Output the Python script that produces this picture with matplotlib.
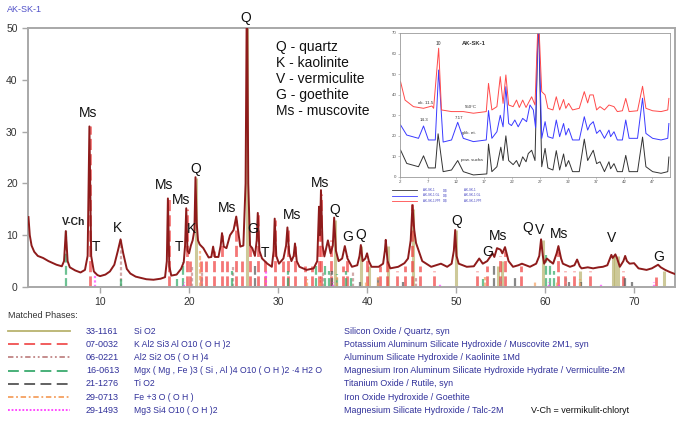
import matplotlib
matplotlib.use("Agg")
import matplotlib.pyplot as plt
from matplotlib.lines import Line2D

W, H = 685, 422

# ---- measured pattern AK-SK-1 (2theta, intensity) ----
two_theta = [1.95, 2.1, 2.3, 2.6, 3.0, 3.6, 4.2, 5.1, 5.7, 5.95, 6.15, 6.35, 6.6, 7.2, 7.8,
             8.3, 8.6, 8.8, 9.0, 9.3, 9.7, 10.0, 10.6, 11.1, 11.6, 12.0, 12.3, 12.6, 13.0,
             13.4, 14.0, 14.5, 15.2, 16.0, 16.8, 17.3, 17.5, 17.62, 17.78, 18.0, 18.6, 19.1,
             19.4, 19.55, 19.68, 19.82, 20.0, 20.2, 20.4, 20.6, 20.72, 20.85, 21.0, 21.2,
             21.6, 22.2, 22.5, 22.7, 22.9, 23.3, 23.55, 23.7, 23.9, 24.2, 24.6, 25.0, 25.3,
             25.5, 25.75, 26.1, 26.35, 26.5, 26.65, 26.85, 27.1, 27.4, 27.6, 27.72, 27.9,
             28.2, 28.8, 29.3, 29.5, 29.62, 29.8, 30.1, 30.6, 30.9, 31.05, 31.25, 31.5,
             31.75, 31.9, 32.1, 32.4, 33.2, 34.0, 34.4, 34.6, 34.7, 34.82, 35.0, 35.2, 35.6,
             35.9, 36.15, 36.3, 36.5, 36.8, 37.2, 37.5, 37.8, 38.3, 38.9, 39.15, 39.3, 39.5,
             39.8, 40.0, 40.2, 40.5, 41.3, 41.8, 42.0, 42.1, 42.3, 42.6, 43.5, 44.2, 44.6,
             44.9, 45.1, 45.3, 45.5, 45.7, 46.2, 47.2, 48.3, 49.0, 49.5, 49.75, 49.9, 50.05,
             50.3, 51.2, 52.0, 52.6, 53.0, 53.5, 54.1, 54.3, 54.6, 55.0, 55.2, 55.5, 55.9,
             56.4, 57.0, 57.4, 58.3, 59.0, 59.35, 59.55, 59.75, 59.9, 60.2, 60.4, 60.9, 61.3,
             61.5, 61.8, 62.0, 62.8, 63.3, 63.6, 63.9, 64.1, 64.8, 65.4, 66.0, 66.5, 67.0,
             67.3, 67.45, 67.6, 67.9, 68.1, 68.4, 68.8, 69.0, 69.2, 69.5, 70.0, 70.5, 71.4,
             72.0, 72.4, 72.7, 73.0, 73.5, 74.0, 74.6]
intensity = [13.5, 10.0, 8.0, 6.8, 6.0, 5.6, 5.0, 4.3, 4.0, 5.0, 10.8, 5.0, 3.8, 3.2, 2.8,
             3.3, 6.0, 31.0, 6.0, 3.0, 2.3, 2.1, 2.4, 3.0, 4.3, 7.0, 9.2, 6.5, 3.5,
             2.6, 2.0, 1.8, 1.5, 1.4, 1.6, 1.9, 5.0, 17.1, 4.0, 2.2, 2.4, 3.5,
             4.8, 8.0, 15.2, 7.0, 6.5, 8.0, 9.0, 11.0, 21.2, 12.5, 9.0, 8.2,
             7.5, 5.7, 5.8, 7.8, 5.8, 5.8, 8.0, 10.4, 7.8, 7.5, 10.0, 11.0, 13.6,
             11.0, 7.8, 8.0, 20.0, 60.0, 20.0, 8.0, 7.5, 6.0, 9.0, 14.3, 7.0,
             5.5, 4.5, 3.9, 7.0, 13.2, 6.0, 4.5, 5.5, 8.0, 11.5, 6.5, 5.0,
             6.0, 8.4, 5.0, 3.9, 3.3, 3.6, 5.0, 15.5, 10.0, 18.7, 8.0, 5.9, 9.0,
             6.5, 8.0, 13.4, 7.0, 5.0, 5.5, 7.9, 5.5, 3.9, 4.2, 6.0, 8.1, 5.0,
             5.5, 6.5, 5.0, 3.9, 3.9, 4.5, 7.0, 9.1, 5.0, 3.6, 3.9, 4.6, 5.5,
             9.0, 15.8, 11.0, 8.5, 7.5, 5.0, 3.9, 4.5, 3.9, 4.5, 7.0, 11.0, 6.0,
             4.5, 3.9, 4.0, 5.5, 4.5, 5.0, 6.5, 5.8, 7.5, 7.2, 6.5, 7.7, 5.0,
             3.9, 4.2, 4.5, 3.9, 4.5, 6.0, 9.2, 6.0, 4.5, 5.5, 5.2, 4.5, 6.5,
             7.9, 5.5, 4.5, 3.9, 4.2, 5.3, 4.0, 3.6, 3.8, 3.6, 3.8, 3.9, 4.2,
             5.5, 6.2, 5.6, 6.3, 5.5, 3.9, 5.0, 6.0, 5.0, 4.5, 4.6, 3.6, 3.3,
             3.6, 4.0, 4.3, 3.8, 3.3, 2.9, 2.5]

# ---- reference stick patterns (2theta, height) ----
quartz_pos = [20.8, 26.55, 36.4, 39.35, 40.2, 42.3, 45.2, 50.0, 54.7, 55.2, 59.8, 63.9, 67.6, 67.9, 68.2, 73.4]
quartz_h = [21, 60, 13, 8, 4, 8, 15, 11, 4, 5, 9, 3, 6, 6, 6, 3]
musc_pos = [8.85, 17.7, 19.75, 20.1, 21.3, 21.9, 22.8, 23.7, 24.3, 25.3, 26.0, 26.8, 27.75, 28.5,
            29.65, 30.5, 31.1, 31.9, 33.0, 33.8, 34.65, 34.85, 35.9, 37.3, 37.8, 40.0, 41.4,
            42.2, 43.4, 44.3, 45.05, 46.0, 47.5, 52.3, 53.5, 54.9, 55.5, 57.3, 61.4, 62.2,
            63.3, 65.0, 68.8, 72.5]
musc_h = [31, 17, 15, 5, 5, 5, 7, 10, 5, 13, 5, 8, 14, 5,
          13, 5, 11, 8, 4, 4, 15, 18, 9, 4, 6, 6, 4,
          5, 3, 4, 16, 4, 3, 3, 4, 6, 7, 4, 7, 3,
          3, 3, 3, 2]
kaol_pos = [12.3, 20.3, 21.4, 24.9, 35.0, 36.0, 38.4, 45.5, 55.1, 62.3]
kaol_h = [9, 4, 3, 4, 3, 3, 3, 2, 2, 2]
verm_pos = [6.2, 12.35, 18.6, 19.3, 24.8, 31.1, 34.3, 35.3, 35.7, 36.6, 37.6, 38.2, 53.0, 60.1, 60.6, 61.0]
verm_h = [10.8, 1.5, 1.5, 4.8, 3, 3, 4, 4, 3, 2.5, 3, 2, 1.5, 6.2, 5, 3]
rutile_pos = [27.45, 36.1, 39.2, 41.2, 44.0, 54.3, 56.6, 62.7, 64.0, 69.0, 69.8]
rutile_h = [4, 3, 1, 2, 1, 4, 2, 1, 1, 2, 1]
goeth_pos = [21.2, 33.2, 34.7, 36.6, 39.9, 41.2, 53.2, 58.9, 61.3, 63.9]
goeth_h = [7, 1.5, 1.5, 2, 1, 2, 2, 1, 1, 1.5]
talc_pos = [9.45, 19.4, 28.6, 36.2, 48.2, 60.4, 61.6, 66.3, 72.2]
talc_h = [2.7, 1, 3, 1, 0.5, 1, 0.5, 0.5, 1]

# ---- mineral labels on main plot ----
label_text = ["Q", "Ms", "V-Ch", "T", "K", "Ms", "Ms", "Q", "K", "T", "Ms", "G", "T", "Ms",
              "Ms", "Q", "G", "Q", "Q", "G", "Ms", "Q", "V", "Ms", "V", "G"]
label_x = [26.4, 8.65, 7.0, 9.5, 12.0, 17.2, 19.1, 20.8, 20.3, 18.9, 24.3, 27.2, 28.5, 31.6,
           34.7, 36.4, 37.8, 39.3, 50.1, 53.6, 54.7, 58.1, 59.4, 61.6, 67.5, 72.8]
label_y = [51.9, 33.6, 12.5, 7.7, 11.4, 19.7, 16.8, 22.8, 11.2, 7.7, 15.3, 11.2, 6.6, 13.9,
           20.0, 14.9, 9.7, 10.0, 12.7, 6.7, 9.9, 11.3, 11.1, 10.2, 9.4, 5.7]

key_lines = ["Q - quartz", "K - kaolinite", "V - vermiculite", "G - goethite", "Ms - muscovite"]

# ---- matched phases table ----
phase_codes = ["33-1161", "07-0032", "06-0221", "16-0613", "21-1276", "29-0713", "29-1493"]
phase_formulas = ["Si O2", "K Al2 Si3 Al O10 ( O H )2", "Al2 Si2 O5 ( O H )4",
                  "Mgx ( Mg , Fe )3 ( Si , Al )4 O10 ( O H )2 ·4 H2 O", "Ti O2",
                  "Fe +3 O ( O H )", "Mg3 Si4 O10 ( O H )2"]
phase_names = ["Silicon Oxide / Quartz, syn",
               "Potassium Aluminum Silicate Hydroxide / Muscovite 2M1, syn",
               "Aluminum Silicate Hydroxide / Kaolinite 1Md",
               "Magnesium Iron Aluminum Silicate Hydroxide Hydrate / Vermiculite-2M",
               "Titanium Oxide / Rutile, syn",
               "Iron Oxide Hydroxide / Goethite",
               "Magnesium Silicate Hydroxide / Talc-2M"]

# ---- inset: three stacked patterns ----
ins_black_x = [2.1, 3.2, 5.3, 6.2, 7.07, 8.3, 8.8, 9.7, 11.2, 12.3, 13.3, 15.1, 17.5, 17.8, 18.4,
               19.3, 20.0, 20.4, 20.9, 21.4, 22.2, 22.8, 23.3, 23.9, 24.5, 24.9, 25.5, 26.1,
               26.7, 27.3, 27.9, 28.4, 29.3, 29.9, 30.5, 31.2, 31.6, 32.1, 32.8, 34.0, 34.9,
               35.5, 35.9, 36.5, 37.1, 37.7, 38.5, 39.3, 39.6, 40.2, 40.8, 41.7, 42.3, 42.9,
               44.4, 45.3, 45.9, 47.1, 48.6, 49.8, 50.0]
ins_black_y = [13.1, 6.6, 5.0, 10.3, 4.4, 4.4, 21.0, 2.6, 3.4, 8.0, 2.6, 1.0, 1.5, 16.0, 2.6,
               5.0, 14.5, 8.0, 20.0, 8.0, 6.0, 8.0, 5.0, 9.8, 7.4, 11.4, 13.0, 8.0,
               80.0, 5.0, 13.9, 4.4, 3.4, 12.8, 3.4, 11.2, 5.0, 8.0, 2.6, 2.6, 18.4,
               8.0, 10.0, 13.0, 6.5, 7.4, 2.6, 7.4, 4.0, 6.5, 2.6, 2.6, 10.5, 2.6,
               2.6, 19.4, 5.0, 2.6, 1.8, 2.6, 9.7]
ins_blue_x = [2.1, 3.2, 5.3, 6.2, 7.07, 8.3, 8.9, 9.7, 11.2, 12.3, 13.3, 15.1, 17.4, 17.8, 18.4,
              19.3, 19.9, 20.4, 20.9, 21.4, 21.9, 22.5, 23.1, 23.9, 24.6, 25.2, 25.8, 26.2,
              26.7, 27.3, 27.9, 28.4, 29.3, 29.9, 30.5, 31.2, 31.6, 32.1, 32.8, 34.0, 34.9,
              35.5, 35.9, 36.5, 37.1, 37.7, 38.5, 39.3, 39.6, 40.2, 40.8, 41.7, 42.3, 42.9,
              44.4, 45.3, 45.9, 47.1, 48.6, 49.8, 50.0]
ins_blue_y = [25.3, 20.4, 18.8, 24.8, 18.0, 18.0, 52.0, 17.0, 18.0, 26.6, 18.8, 17.2, 18.0, 32.3, 18.8,
              22.0, 30.0, 24.4, 43.9, 26.0, 25.0, 27.7, 24.4, 28.5, 26.9, 35.0, 32.6, 24.0,
              80.0, 18.8, 26.9, 19.6, 18.8, 27.7, 19.6, 26.0, 20.4, 23.6, 18.0, 18.0, 29.3,
              22.8, 25.3, 26.9, 21.2, 22.8, 18.8, 22.8, 19.6, 22.0, 18.0, 18.0, 27.7, 18.8,
              18.8, 38.3, 21.2, 18.8, 18.0, 18.8, 26.0]
ins_red_x = [2.1, 2.9, 4.4, 6.2, 7.7, 8.0, 8.9, 9.4, 11.2, 13.3, 15.1, 17.4, 17.8, 18.4, 19.3,
             19.9, 20.4, 20.9, 21.4, 22.2, 22.8, 23.3, 23.9, 24.5, 25.5, 26.1, 26.7, 27.3,
             27.9, 28.4, 29.3, 29.9, 30.5, 31.2, 31.6, 32.1, 32.8, 34.0, 34.9, 35.5, 35.9,
             36.5, 37.1, 37.7, 38.5, 39.3, 40.2, 40.8, 41.7, 42.3, 42.9, 44.4, 45.3, 45.9,
             47.1, 48.6, 49.8, 50.0]
ins_red_y = [46.3, 37.4, 34.2, 33.4, 34.5, 33.4, 62.6, 32.6, 31.8, 31.8, 31.0, 31.8, 45.5, 32.6, 34.2,
             48.8, 35.8, 49.6, 35.0, 34.2, 37.4, 33.8, 37.4, 33.8, 39.0, 35.0, 80.0, 41.5,
             39.9, 33.4, 32.6, 39.0, 32.6, 37.7, 33.4, 35.8, 32.6, 33.4, 41.5, 36.0, 39.9,
             39.9, 32.6, 34.2, 32.6, 35.0, 34.2, 31.8, 32.2, 38.2, 31.8, 32.2, 44.1, 33.4,
             32.2, 31.8, 32.6, 38.2]
ins_legend = [("AK-SK-1", "AK-SK-1"), ("AK-SK-1.GL", "AK-SK-1.GL"), ("AK-SK-1.PPI", "AK-SK-1.PPI")]

NARROW = ["Liberation Sans Narrow", "Liberation Sans", "DejaVu Sans"]
SANS = ["Liberation Sans", "DejaVu Sans"]
plt.rcParams["font.family"] = SANS


def fx(px):
    return px / W


def fy(py):
    return 1 - py / H


fig = plt.figure(figsize=(W / 100, H / 100), dpi=100)

# ---------------- main axes ----------------
ax = fig.add_axes([fx(28), fy(287), (675 - 28) / W, (287 - 28) / H])
ax.set_xlim(1.9, 74.6)
ax.set_ylim(0, 50)

sticks = [
    (quartz_pos, quartz_h, "#b9b36e", "solid", 2.2),
    (musc_pos, musc_h, "#f03c3c", (0, (4, 1.5)), 2.0),
    (kaol_pos, kaol_h, "#c08585", (0, (1.5, 1)), 1.6),
    (verm_pos, verm_h, "#2fa866", (0, (4, 1.5)), 1.6),
    (rutile_pos, rutile_h, "#555555", (0, (4, 1.5)), 1.6),
    (goeth_pos, goeth_h, "#f5a060", (0, (2, 1)), 1.6),
    (talc_pos, talc_h, "#ff3cff", (0, (1, 1)), 1.6),
]
for pos, hts, col, ls, lw in sticks:
    ax.vlines(pos, 0, hts, colors=col, linestyles=ls, linewidth=lw, alpha=0.7, zorder=1)

ax.plot(two_theta, intensity, color="#8e1b1b", lw=1.4, zorder=3)

for s in ["left", "right", "top", "bottom"]:
    ax.spines[s].set_color("#a8a8a8")
    ax.spines[s].set_linewidth(1.4)
ax.set_xticks([10, 20, 30, 40, 50, 60, 70])
ax.set_yticks([0, 10, 20, 30, 40, 50])
ax.tick_params(axis="both", colors="#a8a8a8", labelcolor="#333333", labelsize=7, length=4, width=1)
for t in ax.get_xticklabels() + ax.get_yticklabels():
    t.set_fontfamily(NARROW)
    t.set_fontsize(7.5)

for txt, x, y in zip(label_text, label_x, label_y):
    if txt == "V-Ch":
        ax.text(x, y, txt, fontsize=7.5, ha="center", va="center", color="#222222",
                fontweight="bold", clip_on=False, zorder=5)
    else:
        ax.text(x, y, txt, fontsize=10, ha="center", va="center", color="#111111",
                clip_on=False, zorder=5)

for i, line in enumerate(key_lines):
    fig.text(fx(276), fy(47 + i * 16), line, fontsize=10, color="#111111", va="center")

fig.text(fx(7), fy(9), "AK-SK-1", fontsize=6.5, color="#5050c8", va="center",
         family=NARROW)

# ---------------- inset ----------------
ai = fig.add_axes([fx(400), fy(177), 270 / W, 144 / H])
ai.plot(ins_black_x, ins_black_y, color="#333333", lw=0.7)
ai.plot(ins_blue_x, ins_blue_y, color="#3a3aff", lw=0.7)
ai.plot(ins_red_x, ins_red_y, color="#ff4a4a", lw=0.7)
ai.set_xlim(2, 50.2)
ai.set_ylim(0, 70)
ai.set_xticks([2, 7, 12, 17, 22, 27, 32, 37, 42, 47])
ai.set_yticks([0, 10, 20, 30, 40, 50, 60, 70])
ai.tick_params(labelsize=3.2, length=1.5, width=0.4, colors="#999999", labelcolor="#555555", pad=1)
for s in ai.spines.values():
    s.set_color("#9a9a9a")
    s.set_linewidth(0.6)
ai.text(8.8, 65, "10", fontsize=3.5, ha="center", va="center", color="#333333")
ai.text(15.2, 65, "AK-SK-1", fontsize=4.2, ha="center", va="center", fontweight="bold", color="#333333")
ai.text(6.5, 36, "ok. 11.5", fontsize=3.2, ha="center", va="center", color="#333333")
ai.text(6.2, 27.5, "14.3", fontsize=3.2, ha="center", va="center", color="#333333")
ai.text(12.5, 28.6, "7.17", fontsize=3.2, ha="center", va="center", color="#333333")
ai.text(14.7, 34, "550°C", fontsize=3.2, ha="center", va="center", color="#333333")
ai.text(14.3, 21.4, "glik. et.", fontsize=3.2, ha="center", va="center", color="#333333")
ai.text(14.8, 8.3, "pow. sucha", fontsize=3.2, ha="center", va="center", color="#333333")

for i, (col, (a, b)) in enumerate(zip(["#333333", "#3a3aff", "#ff4a4a"], ins_legend)):
    yy = 190 + i * 5.5
    fig.add_artist(Line2D([fx(392), fx(417)], [fy(yy), fy(yy)], color=col, lw=0.6,
                          transform=fig.transFigure))
    fig.text(fx(423), fy(yy), a, fontsize=2.2, color="#4040c0", va="center")
    fig.text(fx(443), fy(yy), "D:\\$", fontsize=2.2, color="#4040c0", va="center")
    fig.text(fx(464), fy(yy), b, fontsize=2.2, color="#4040c0", va="center")

# ---------------- matched phases ----------------
fig.text(fx(8), fy(316), "Matched Phases:", fontsize=6.5, color="#333333", va="center",
         family=NARROW)
legend_styles = [
    ("#b9b36e", "solid"),
    ("#f05050", (0, (6, 3))),
    ("#c08585", (0, (3, 1.5, 1, 1.5, 1, 1.5))),
    ("#3aaa6e", (0, (6, 3))),
    ("#555555", (0, (6, 3))),
    ("#f5a060", (0, (3, 1.5, 1, 1.5))),
    ("#ff3cff", (0, (1, 1))),
]
for i, (code, form, name) in enumerate(zip(phase_codes, phase_formulas, phase_names)):
    yy = 331 + i * 13.2
    col, ls = legend_styles[i]
    fig.add_artist(Line2D([fx(8), fx(70)], [fy(yy), fy(yy)], color=col, ls=ls, lw=1.3,
                          transform=fig.transFigure))
    fig.text(fx(86), fy(yy), code, fontsize=6.5, color="#30309a", va="center", family=NARROW)
    fig.text(fx(134), fy(yy), form, fontsize=6.2, color="#30309a", va="center", family=NARROW)
    fig.text(fx(344), fy(yy), name, fontsize=6.4, color="#30309a", va="center", family=NARROW)
fig.text(fx(531), fy(331 + 6 * 13.2), "V-Ch = vermikulit-chloryt", fontsize=6.5,
         color="#111111", va="center", family=NARROW)

fig.savefig("out.png", dpi=100)
